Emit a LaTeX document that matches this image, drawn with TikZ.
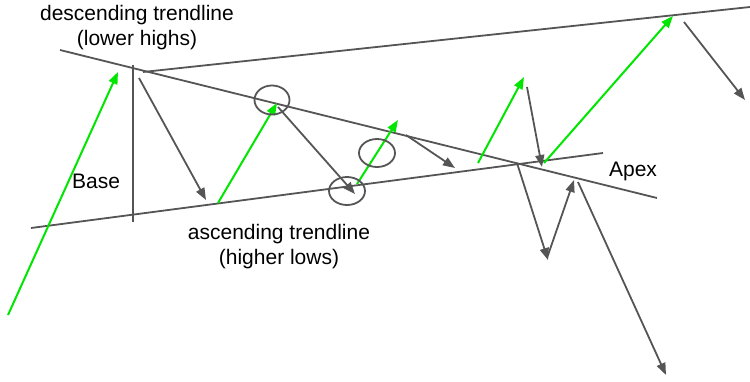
\documentclass[tikz,border=0pt]{standalone}
\usepackage{fontspec}
\setmainfont{Liberation Sans}
\usetikzlibrary{arrows.meta}
\definecolor{upgreen}{RGB}{0,230,0}
\definecolor{linegray}{RGB}{85,85,85}
\begin{document}
\begin{tikzpicture}[x=1pt,y=-1pt,
  trend/.style={draw=linegray,line width=1.8pt},
  uparrow/.style={draw=upgreen,line width=2pt,-{Triangle[length=12pt,width=9pt]}},
  downarrow/.style={draw=linegray,line width=1.8pt,-{Triangle[length=12pt,width=9pt]}},
  ring/.style={draw=linegray,line width=1.8pt,ellipse,fill=none},
  label/.style={font=\fontsize{21}{25}\selectfont,align=center,inner sep=0pt,text=black}]
\useasboundingbox (0,0) rectangle (750,381);
% trendlines
\coordinate (d1) at (60,50);   \coordinate (d2) at (657,198);
\coordinate (u1) at (143,72);  \coordinate (u2) at (750,7);
\coordinate (a1) at (31,228);  \coordinate (a2) at (603,153);
\coordinate (b1) at (133,65);  \coordinate (b2) at (133,222);
\draw[trend] (d1) -- (d2);
\draw[trend] (u1) -- (u2);
\draw[trend] (a1) -- (a2);
\draw[trend] (b1) -- (b2);
% green moves
\coordinate (g1s) at (8,315);   \coordinate (g1e) at (118,72);
\coordinate (g2s) at (218,203); \coordinate (g2e) at (277,103);
\coordinate (g3s) at (357,184); \coordinate (g3e) at (398,120);
\coordinate (g4s) at (478,163); \coordinate (g4e) at (524,77);
\coordinate (g5s) at (544,163); \coordinate (g5e) at (673,16);
\draw[uparrow] (g1s) -- (g1e);
\draw[uparrow] (g2s) -- (g2e);
\draw[uparrow] (g3s) -- (g3e);
\draw[uparrow] (g4s) -- (g4e);
\draw[uparrow] (g5s) -- (g5e);
% gray moves
\coordinate (r1s) at (139,78);  \coordinate (r1e) at (206,200);
\coordinate (r2s) at (278,107); \coordinate (r2e) at (355,194);
\coordinate (r3s) at (406,135); \coordinate (r3e) at (455,168);
\coordinate (r4s) at (527,87);  \coordinate (r4e) at (542,167);
\coordinate (r5s) at (517,163); \coordinate (r5e) at (548,260);
\coordinate (r6s) at (547,258); \coordinate (r6e) at (574,180);
\coordinate (r7s) at (578,182); \coordinate (r7e) at (666,375);
\coordinate (r8s) at (684,22);  \coordinate (r8e) at (745,100);
\draw[downarrow] (r1s) -- (r1e);
\draw[downarrow] (r2s) -- (r2e);
\draw[downarrow] (r3s) -- (r3e);
\draw[downarrow] (r4s) -- (r4e);
\draw[downarrow] (r5s) -- (r5e);
\draw[downarrow] (r6s) -- (r6e);
\draw[downarrow] (r7s) -- (r7e);
\draw[downarrow] (r8s) -- (r8e);
% rings
\draw[linegray,line width=1.8pt] (272,100) ellipse [x radius=17.5, y radius=14.5];
\draw[linegray,line width=1.8pt] (377,153) ellipse [x radius=18, y radius=14];
\draw[linegray,line width=1.8pt] (347,191) ellipse [x radius=18, y radius=14];
% labels
\node[label] (desc) at (137,28) {descending trendline\\(lower highs)};
\node[label] (asc) at (279,247) {ascending trendline\\(higher lows)};
\node[label] (base) at (96,181) {Base};
\node[label] (apex) at (633,171) {Apex};
\end{tikzpicture}
\end{document}
